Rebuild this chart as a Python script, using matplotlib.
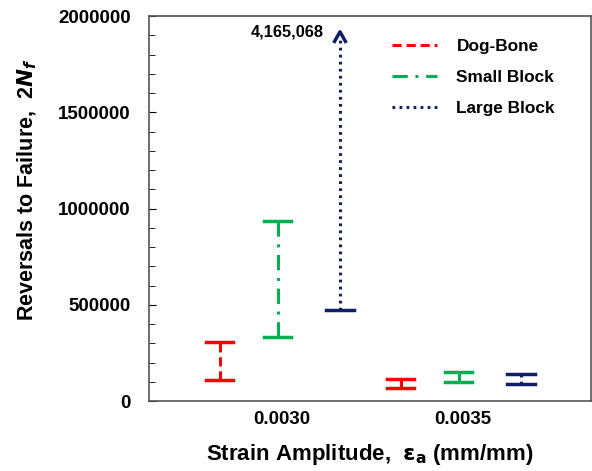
import matplotlib.pyplot as plt
from matplotlib.ticker import MultipleLocator, StrMethodFormatter

plt.rcParams['font.family'] = ['Liberation Sans', 'DejaVu Sans']
plt.rcParams['font.weight'] = 'bold'

# strain amplitudes (categories) and reversals to failure ranges
strains = ["0.0030", "0.0035"]
series = ["Dog-Bone", "Small Block", "Large Block"]
low = {
    "Dog-Bone": [108000, 66000],
    "Small Block": [335000, 97000],
    "Large Block": [472000, 88000],
}
high = {
    "Dog-Bone": [304000, 113000],
    "Small Block": [937000, 153000],
    "Large Block": [4165068, 141000],
}
colors = {"Dog-Bone": "#ff0000", "Small Block": "#00b050", "Large Block": "#0f1f5f"}
styles = {"Dog-Bone": (0, (3, 1.6)), "Small Block": (0, (5, 2.5, 1, 2.5)),
          "Large Block": (0, (0.9, 1.4))}
offsets = {"Dog-Bone": -0.345, "Small Block": -0.025, "Large Block": 0.32}

ymax = 2000000
clip_top = 1918000
cap = 0.075

fig = plt.figure(figsize=(5.92, 4.71), dpi=100)
ax = fig.add_axes([0.2517, 0.1486, 0.7458, 0.8174])

for s in series:
    for i in range(len(strains)):
        x = i + offsets[s]
        lo, hi = low[s][i], high[s][i]
        if hi > ymax:
            # off-scale value: dotted line with an arrow at the top, value written beside
            ax.plot([x, x], [lo, clip_top - 20000], color=colors[s], lw=2.2,
                    linestyle=styles[s], label=s if i == 0 else None)
            ax.plot([x - 0.03, x, x + 0.03], [clip_top - 50000, clip_top, clip_top - 50000],
                    color=colors[s], lw=2.5)
            ax.text(x - 0.29, clip_top, f"{hi:,}", ha='center', va='center',
                    fontsize=11.8, fontweight='bold')
            ax.plot([x - cap, x + cap], [lo, lo], color=colors[s], lw=2.5)
        else:
            ax.plot([x, x], [lo, hi], color=colors[s], lw=2.2,
                    linestyle=styles[s], label=s if i == 0 else None)
            ax.plot([x - cap, x + cap], [lo, lo], color=colors[s], lw=2.5)
            ax.plot([x - cap, x + cap], [hi, hi], color=colors[s], lw=2.5)

ax.set_xlim(-0.735, 1.704)
ax.set_ylim(0, ymax)
ax.set_xticks(range(len(strains)))
ax.set_xticklabels(strains, fontsize=13.5, fontweight='bold')
ax.tick_params(axis='x', length=0, pad=7)
ax.yaxis.set_major_locator(MultipleLocator(500000))
ax.yaxis.set_minor_locator(MultipleLocator(100000))
ax.yaxis.set_major_formatter(StrMethodFormatter("{x:.0f}"))
ax.tick_params(axis='y', which='both', direction='in', labelsize=13.5, pad=13)
ax.tick_params(axis='y', which='major', length=5)
ax.tick_params(axis='y', which='minor', length=4)
for lab in ax.get_yticklabels():
    lab.set_fontweight('bold')
for sp in ax.spines.values():
    sp.set_color('#555555')
    sp.set_linewidth(1.2)

ax.set_xlabel(r"Strain Amplitude,  $\mathbf{\varepsilon_a}$ (mm/mm)", fontsize=16,
              fontweight='bold', labelpad=10)
ax.set_ylabel(r"Reversals to Failure,  2$\mathbfit{N}_{\mathbfit{f}}$",
              fontsize=15.5, fontweight='bold', labelpad=14, y=0.55)

leg = ax.legend(loc='upper left', bbox_to_anchor=(0.55, 0.94), frameon=False,
                borderpad=0, borderaxespad=0, fontsize=12.4, handlelength=2.6,
                labelspacing=0.92, handletextpad=1.15)
for t in leg.get_texts():
    t.set_fontweight('bold')

fig.savefig("out.png", dpi=100)
